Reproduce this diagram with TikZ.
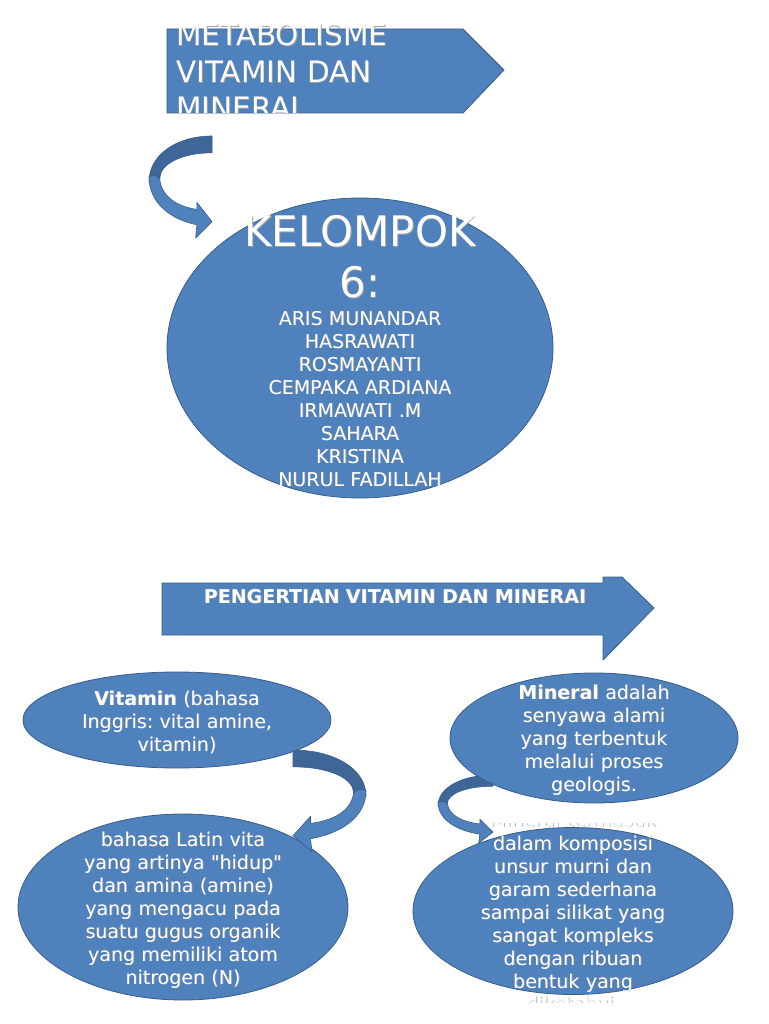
\documentclass[tikz,border=0pt]{standalone}
\usepackage{fontspec}
\setmainfont{DejaVu Sans}[Ligatures=TeXOff]
\frenchspacing
\usetikzlibrary{calc,shapes.geometric}
\definecolor{shapeblue}{RGB}{79,129,189}
\definecolor{edgeblue}{RGB}{56,93,138}
\definecolor{backblue}{RGB}{62,102,152}
\definecolor{textshade}{RGB}{160,160,160}
\tikzset{
  bubble/.style={ellipse, draw=edgeblue, fill=shapeblue, line width=0.8pt, inner sep=0pt},
  shapeline/.style={draw=edgeblue, fill=shapeblue, line width=0.8pt, line join=round},
  txt/.style={text=white, inner sep=0pt, anchor=base, align=center, text width=340pt,
    font=\fontsize{19}{23}\selectfont},
  txtshadow/.style={txt, text=textshade},
  % bent band arrow, drawn in a unit box (bulge at x=0, head at x=1)
  curvedarrow/.pic={
    \fill[backblue, draw=edgeblue, line width=0.6pt, line join=round]
      (1,0) .. controls (0.45,0) and (0,0.18) .. (0,0.45)
      -- (0.17,0.42) .. controls (0.17,0.28) and (0.5,0.165) .. (1,0.165) -- cycle;
    \fill[shapeblue, draw=edgeblue, line width=0.6pt, line join=round]
      (0,0.4) .. controls (0,0.66) and (0.35,0.82) .. (0.76,0.87)
      -- (0.74,1) -- (1,0.84) -- (0.76,0.65) -- (0.76,0.72)
      .. controls (0.45,0.69) and (0.2,0.6) .. (0.17,0.42)
      .. controls (0.12,0.38) and (0.05,0.38) .. (0,0.4) -- cycle;
  }
}
\newcommand{\labeltext}[4]{%
  \node[txtshadow,#2] at ($(#3)+(0.7,0.7)$) {#4};
  \node[txt,#2] (#1) at (#3) {#4};}

\begin{document}
\begin{tikzpicture}[x=1pt, y=-1pt]
  \useasboundingbox (0,0) rectangle (768,1024);
  \fill[white] (0,0) rectangle (768,1024);
  % title banner
  \draw[shapeline] (167,29) -- (463,29) -- (504,70) -- (463,113) -- (167,113) -- cycle;
  \begin{scope}
    \clip (0,23) rectangle (768,113);
    \labeltext{title}{align=left, anchor=base west, text width=330pt,
      font=\fontsize{29.5}{36.5}\selectfont}{176,46}{METABOLISME\\VITAMIN DAN\\MINERAL}
  \end{scope}
  \pic[xscale=63, yscale=102] at (149,136) {curvedarrow};
  % group members
  \node[bubble, minimum width=386pt, minimum height=300pt] (kelompok) at (360,348) {};
  \labeltext{kelompoktitle}{font=\fontsize{42}{51}\selectfont, text width=420pt}{360,247}{KELOMPOK\\6:}
  \labeltext{members}{}{360,325}{ARIS MUNANDAR\\HASRAWATI\\ROSMAYANTI\\CEMPAKA ARDIANA\\IRMAWATI .M\\SAHARA\\KRISTINA\\NURUL FADILLAH}
  % section banner
  \draw[shapeline] (162,583) -- (603,583) -- (603,577) -- (622,577) -- (654,608)
    -- (603,660) -- (603,635) -- (162,635) -- cycle;
  \labeltext{pengertian}{font=\bfseries\fontsize{19}{23}\selectfont, text width=460pt}{395,603}{PENGERTIAN VITAMIN DAN MINERAI}
  % lower bubbles
  \node[bubble, minimum width=330pt, minimum height=186pt] (latin) at (183,907) {};
  \labeltext{latintext}{}{183,846}{bahasa Latin vita\\yang artinya "hidup"\\dan amina (amine)\\yang mengacu pada\\suatu gugus organik\\yang memiliki atom\\nitrogen (N)}
  \node[bubble, minimum width=320pt, minimum height=167pt] (mineralinfo) at (573,911) {};
  \begin{scope}
    \clip (0,823) rectangle (768,1002);
    \labeltext{mineralinfotext}{}{573,827}{Mineral termasuk\\dalam komposisi\\unsur murni dan\\garam sederhana\\sampai silikat yang\\sangat kompleks\\dengan ribuan\\bentuk yang\\diketahui.}
  \end{scope}
  \pic[xscale=-73, yscale=102] at (366,750) {curvedarrow};
  \pic[xscale=55, yscale=68] at (438,775) {curvedarrow};
  % upper bubbles
  \node[bubble, minimum width=308pt, minimum height=96pt] (vitamin) at (177,720) {};
  \labeltext{vitamintext}{}{177,705}{\textbf{Vitamin} (bahasa\\Inggris: vital amine,\\vitamin)}
  \node[bubble, minimum width=288pt, minimum height=130pt] (mineral) at (594,738) {};
  \labeltext{mineraltext}{}{594,699}{\textbf{Mineral} adalah\\senyawa alami\\yang terbentuk\\melalui proses\\geologis.}
\end{tikzpicture}
\end{document}
